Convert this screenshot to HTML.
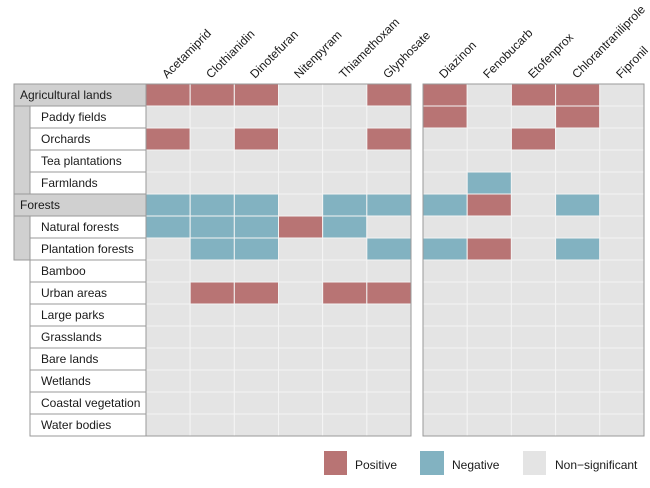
<!DOCTYPE html>
<html><head><meta charset="utf-8"><style>
html,body{margin:0;padding:0;background:#fff;}
svg{display:block;font-family:"Liberation Sans",Arial,sans-serif;}
</style></head><body>
<svg id="s" width="650" height="488" viewBox="0 0 650 488" xmlns="http://www.w3.org/2000/svg">
<g id="cells"></g>
<rect x="146" y="84" width="265" height="352" fill="none" stroke="#9a9a9a" stroke-width="1"/>
<rect x="423" y="84" width="221" height="352" fill="none" stroke="#9a9a9a" stroke-width="1"/>
<!-- row labels -->
<rect x="14" y="84" width="16" height="176" fill="#d0d0d0" stroke="#9a9a9a"/>
<rect x="14" y="84" width="132" height="22" fill="#d0d0d0" stroke="#9a9a9a"/>
<rect x="14" y="194" width="132" height="22" fill="#d0d0d0" stroke="#9a9a9a"/>
<g fill="#fff" stroke="#9a9a9a">
<rect x="30" y="106" width="116" height="22"/><rect x="30" y="128" width="116" height="22"/>
<rect x="30" y="150" width="116" height="22"/><rect x="30" y="172" width="116" height="22"/>
<rect x="30" y="216" width="116" height="22"/><rect x="30" y="238" width="116" height="22"/>
<rect x="30" y="260" width="116" height="22"/><rect x="30" y="282" width="116" height="22"/>
<rect x="30" y="304" width="116" height="22"/><rect x="30" y="326" width="116" height="22"/>
<rect x="30" y="348" width="116" height="22"/><rect x="30" y="370" width="116" height="22"/>
<rect x="30" y="392" width="116" height="22"/><rect x="30" y="414" width="116" height="22"/>
</g>
<g font-size="12" fill="#1a1a1a">
<text x="20" y="99">Agricultural lands</text>
<text x="41" y="121">Paddy fields</text>
<text x="41" y="143">Orchards</text>
<text x="41" y="165">Tea plantations</text>
<text x="41" y="187">Farmlands</text>
<text x="20" y="209">Forests</text>
<text x="41" y="231">Natural forests</text>
<text x="41" y="253">Plantation forests</text>
<text x="41" y="275">Bamboo</text>
<text x="41" y="297">Urban areas</text>
<text x="41" y="319">Large parks</text>
<text x="41" y="341">Grasslands</text>
<text x="41" y="363">Bare lands</text>
<text x="41" y="385">Wetlands</text>
<text x="41" y="407">Coastal vegetation</text>
<text x="41" y="429">Water bodies</text>
</g>
<g font-size="12" fill="#1a1a1a">
<text transform="translate(167,79) rotate(-45)">Acetamiprid</text>
<text transform="translate(211,79) rotate(-45)">Clothianidin</text>
<text transform="translate(255,79) rotate(-45)">Dinotefuran</text>
<text transform="translate(299,79) rotate(-45)">Nitenpyram</text>
<text transform="translate(344,79) rotate(-45)">Thiamethoxam</text>
<text transform="translate(388,79) rotate(-45)">Glyphosate</text>
<text transform="translate(444,79) rotate(-45)">Diazinon</text>
<text transform="translate(488,79) rotate(-45)">Fenobucarb</text>
<text transform="translate(533,79) rotate(-45)">Etofenprox</text>
<text transform="translate(577,79) rotate(-45)">Chlorantraniliprole</text>
<text transform="translate(621,79) rotate(-45)">Fipronil</text>
</g>
<!-- legend -->
<rect x="324" y="451" width="23" height="24" fill="#b87474"/>
<text x="355" y="469" font-size="12" fill="#1a1a1a">Positive</text>
<rect x="420" y="451" width="24" height="24" fill="#82b2c1"/>
<text x="452" y="469" font-size="12" fill="#1a1a1a">Negative</text>
<rect x="523" y="451" width="23" height="24" fill="#e4e4e4"/>
<text x="555" y="469" font-size="12" fill="#1a1a1a">Non−significant</text>
</svg>
<script>
var L=["PPP..P","......","P.P..P","......","......","NNN.NN","NNNPN.",".NN..N","......",".PP.PP","......","......","......","......","......","......"];
var R=["P.PP.","P..P.","..P..",".....",".N...","NP.N.",".....","NP.N.",".....",".....",".....",".....",".....",".....",".....","....."];
var col={P:"#b87474",N:"#82b2c1",".":"#e4e4e4"};
var g=document.getElementById("cells"),ns="http://www.w3.org/2000/svg",h="";
function add(x,y,w,c){h+='<rect x="'+x.toFixed(2)+'" y="'+y+'" width="'+w.toFixed(2)+'" height="22" fill="'+c+'" stroke="#f4f4f4" stroke-width="1"/>';}
for(var r=0;r<16;r++){var y=84+22*r;
for(var i=0;i<6;i++)add(146+i*265/6,y,265/6,col[L[r][i]]);
for(var i=0;i<5;i++)add(423+i*221/5,y,221/5,col[R[r][i]]);}
g.innerHTML=h;
</script>
</body></html>
